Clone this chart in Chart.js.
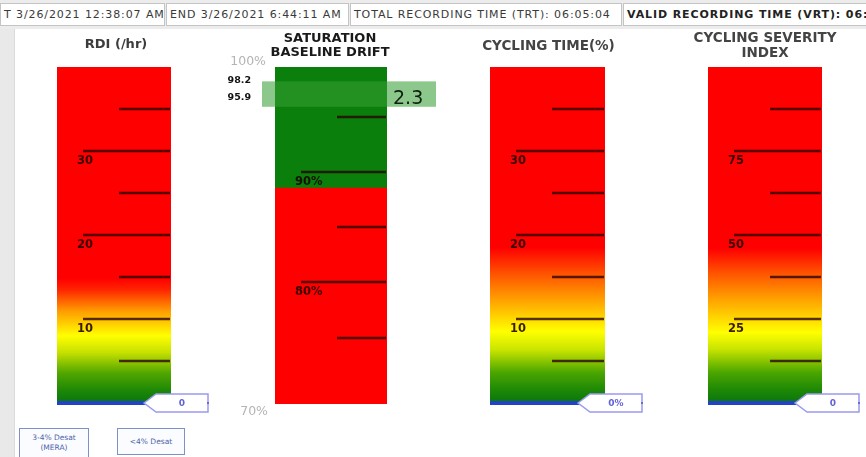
<!DOCTYPE html>
<html>
<head>
<meta charset="utf-8">
<script src="https://cdn.jsdelivr.net/npm/chart.js@4.4.1/dist/chart.umd.min.js"></script>
<style>
  html, body { margin: 0; padding: 0; background: #fff; }
  body { width: 866px; height: 457px; position: relative; overflow: hidden; font-family: "DejaVu Sans", sans-serif; }
  #hdr { position: absolute; left: 0; top: 0; width: 866px; height: 29px; background: #ececec; }
  .cell { position: absolute; top: 3px; height: 23px; background: #fff; border: 1px solid #c4c4c4; box-sizing: border-box;
          font-size: 11px; letter-spacing: 0.9px; line-height: 21px; color: #3a3a3a; white-space: nowrap; overflow: hidden; padding-left: 3px; }
  #strip { position: absolute; left: 0; top: 29px; width: 14px; bottom: 0; background: #e9e9e9; border-right: 1px solid #dadada; }
  canvas { position: absolute; }
  .btn { position: absolute; border: 1.5px solid #7d90c8; background: #fbfcff; color: #4d66a8; font-size: 7.5px;
         text-align: center; box-sizing: border-box; line-height: 10px; }
</style>
</head>
<body>
<div id="hdr">
  <div class="cell" style="left:0;width:165px;">T 3/26/2021 12:38:07 AM</div>
  <div class="cell" style="left:166px;width:183px;">END 3/26/2021 6:44:11 AM</div>
  <div class="cell" style="left:350px;width:272px;">TOTAL RECORDING TIME (TRT): 06:05:04</div>
  <div class="cell" style="left:623px;width:260px;font-weight:bold;color:#222;">VALID RECORDING TIME (VRT): 06:05:04</div>
</div>
<div id="strip"></div>

<canvas id="rdi" width="200" height="400" style="left:15px;top:30px;"></canvas>
<canvas id="sat" width="230" height="400" style="left:218px;top:30px;"></canvas>
<canvas id="ct" width="200" height="400" style="left:455px;top:30px;"></canvas>
<canvas id="csi" width="196" height="400" style="left:670px;top:30px;"></canvas>

<div class="btn" style="left:19px;top:428px;width:70px;height:32px;padding-top:4px;">3-4% Desat<br>(MERA)</div>
<div class="btn" style="left:117px;top:428px;width:68px;height:27px;padding-top:8px;">&lt;4% Desat</div>

<script>
// ---- Gauge readings and scales ----
const rdiTitle = ['RDI (/hr)'];
const rdiRange = [0, 40];
const rdiMajorTicks = [10, 20, 30];
const rdiMinorTicks = [5, 15, 25, 35];
const rdiValue = 0;
const rdiValueLabel = '0';

const satTitle = ['SATURATION', 'BASELINE DRIFT'];
const satRange = [69, 99.5];
const satMajorTicks = [90, 80];
const satMajorLabels = ['90%', '80%'];
const satMinorTicks = [95, 85, 75];
const satEndLabels = ['100%', '70%'];
const satNormalFloor = 88.6;
const satBaselineHigh = 98.2;
const satBaselineLow = 95.9;
const satDrift = 2.3;

const ctTitle = ['CYCLING TIME(%)'];
const ctRange = [0, 40];
const ctMajorTicks = [10, 20, 30];
const ctMinorTicks = [5, 15, 25, 35];
const ctValue = 0;
const ctValueLabel = '0%';

const csiTitle = ['CYCLING SEVERITY', 'INDEX'];
const csiRange = [0, 100];
const csiMajorTicks = [25, 50, 75];
const csiMinorTicks = [12.5, 37.5, 62.5, 87.5];
const csiValue = 0;
const csiValueLabel = '0';

// ---- Fill styles (value -> colour along each gauge) ----
const fills = {
  rdi: [[0, '#0a750e'], [1.5, '#1d8806'], [3.6, '#52a700'], [6, '#c6e000'], [8, '#ffff00'], [11, '#ff9a00'], [13.5, '#ff2400'], [14.8, '#ff0000'], [40, '#ff0000']],
  ct:  [[0, '#0a750e'], [1.5, '#1d8806'], [3.6, '#4aa500'], [6.3, '#c8e400'], [8.5, '#ffff00'], [12.3, '#ffa000'], [15.5, '#ff5000'], [18.5, '#ff0000'], [40, '#ff0000']],
  csi: [[0, '#0a750e'], [3.8, '#1d8806'], [9, '#4aa500'], [16, '#c8e400'], [21, '#ffff00'], [31, '#ffa000'], [39, '#ff5000'], [46, '#ff0000'], [100, '#ff0000']],
  satHigh: '#0b7f0b',
  satLow: '#fe0000'
};

const FONT = '"DejaVu Sans", "Liberation Sans", sans-serif';

function verticalFill(stops, range) {
  return function (context) {
    const chart = context.chart;
    const area = chart.chartArea;
    if (!area) return stops[0][1];
    const y = chart.scales.y;
    const g = chart.ctx.createLinearGradient(0, y.getPixelForValue(range[0]), 0, y.getPixelForValue(range[1]));
    stops.forEach(([v, c]) => g.addColorStop((v - range[0]) / (range[1] - range[0]), c));
    return g;
  };
}

function hLine(ctx, x0, x1, y) {
  ctx.beginPath();
  ctx.moveTo(x0, y);
  ctx.lineTo(x1, y);
  ctx.stroke();
}

// Gauge heading, centred over the column (drawn without width squeezing)
function drawHeading(chart, h) {
  const ctx = chart.ctx, a = chart.chartArea;
  ctx.save();
  ctx.fillStyle = h.color;
  ctx.font = h.weight + ' ' + h.size + 'px ' + FONT;
  ctx.textAlign = 'center';
  ctx.textBaseline = 'middle';
  h.lines.forEach((t, i) => ctx.fillText(t, (a.left + a.right) / 2 + h.dx, h.y + i * h.step));
  ctx.restore();
}

// Ticks and tick labels painted inside the gauge column
function drawTicks(chart, spec) {
  const ctx = chart.ctx, y = chart.scales.y, a = chart.chartArea;
  ctx.save();
  ctx.strokeStyle = 'rgba(40,0,0,0.78)';
  ctx.lineWidth = 2.5;
  spec.major.forEach(v => hLine(ctx, a.left + 26, a.right - 1, Math.round(y.getPixelForValue(v))));
  spec.minor.forEach(v => hLine(ctx, a.left + 62, a.right - 1, Math.round(y.getPixelForValue(v))));
  ctx.fillStyle = 'rgba(30,0,0,0.88)';
  ctx.font = 'bold 11.5px ' + FONT;
  ctx.textAlign = 'left';
  ctx.textBaseline = 'middle';
  spec.major.forEach((v, i) => ctx.fillText(spec.majorLabels[i], a.left + 20, y.getPixelForValue(v) + 10));
  ctx.restore();
}

// Blue value line with a callout tag at the current reading
function drawValueTag(chart, value, label) {
  const ctx = chart.ctx, y = chart.scales.y, a = chart.chartArea;
  const py = y.getPixelForValue(value);
  const tip = a.right - 27, boxL = tip + 12, boxR = a.right + 37, h = 9;
  ctx.save();
  ctx.strokeStyle = '#2243c8';
  ctx.lineWidth = 4;
  hLine(ctx, a.left, tip + 2, py);
  ctx.beginPath();
  ctx.moveTo(tip, py);
  ctx.lineTo(boxL, py - h);
  ctx.lineTo(boxR, py - h);
  ctx.lineTo(boxR, py + h);
  ctx.lineTo(boxL, py + h);
  ctx.closePath();
  ctx.fillStyle = '#ffffff';
  ctx.fill();
  ctx.strokeStyle = '#9a9af0';
  ctx.lineWidth = 1.5;
  ctx.stroke();
  ctx.strokeStyle = '#6b6be0';
  ctx.lineWidth = 2;
  hLine(ctx, boxR - 1, boxR + 1, py);
  ctx.fillStyle = '#6262d8';
  ctx.font = 'bold 9px ' + FONT;
  ctx.textAlign = 'center';
  ctx.textBaseline = 'middle';
  ctx.fillText(label, (boxL + boxR) / 2, py + 1);
  ctx.restore();
}

// Saturation baseline band, its bounds and the drift value
function drawSatBand(chart) {
  const ctx = chart.ctx, y = chart.scales.y, a = chart.chartArea;
  const yHi = y.getPixelForValue(satBaselineHigh), yLo = y.getPixelForValue(satBaselineLow);
  ctx.save();
  ctx.fillStyle = 'rgba(53,158,53,0.57)';
  ctx.fillRect(a.left - 13, yHi, (a.right + 49) - (a.left - 13), yLo - yHi);
  ctx.fillStyle = '#111';
  ctx.font = 'bold 9.5px ' + FONT;
  ctx.textAlign = 'right';
  ctx.textBaseline = 'middle';
  ctx.fillText(satBaselineHigh.toFixed(1), a.left - 24, yHi - 1);
  ctx.fillText(satBaselineLow.toFixed(1), a.left - 24, yLo - 9);
  ctx.fillStyle = '#0f1f0f';
  ctx.font = '19px ' + FONT;
  ctx.textAlign = 'left';
  ctx.fillText(satDrift.toFixed(1), a.right + 6, (yHi + yLo) / 2 + 5);
  ctx.fillStyle = '#b4b4b4';
  ctx.font = '12.5px ' + FONT;
  ctx.textAlign = 'right';
  ctx.fillText(satEndLabels[0], a.left - 9, a.top - 5);
  ctx.fillText(satEndLabels[1], a.left - 7, a.bottom + 8);
  ctx.restore();
}

function makeGauge(id, cfg) {
  const marks = {
    id: 'gaugeMarks',
    afterDatasetsDraw(chart) {
      drawHeading(chart, cfg.heading);
      drawTicks(chart, cfg.ticks);
      if (cfg.tag) drawValueTag(chart, cfg.tag.value, cfg.tag.label);
      if (cfg.band) drawSatBand(chart);
    }
  };
  return new Chart(document.getElementById(id), {
    type: 'bar',
    data: { labels: [cfg.heading.lines.join(' ')], datasets: cfg.datasets },
    options: {
      responsive: false,
      animation: false,
      events: [],
      devicePixelRatio: 1,
      layout: { padding: cfg.padding },
      plugins: {
        legend: { display: false },
        tooltip: { enabled: false },
        title: { display: false }
      },
      scales: {
        x: { display: false },
        y: { display: false, min: cfg.range[0], max: cfg.range[1] }
      }
    },
    plugins: [marks]
  });
}

function column(range, fill) {
  return { data: [range.slice()], backgroundColor: fill, borderWidth: 0, barPercentage: 1, categoryPercentage: 1, grouped: false };
}

makeGauge('rdi', {
  heading: { lines: rdiTitle, color: '#3c3c3c', size: 13, weight: 'bold', y: 15, step: 14, dx: 2 },
  padding: { left: 42, right: 44, top: 37, bottom: 27 },
  range: rdiRange,
  datasets: [column(rdiRange, verticalFill(fills.rdi, rdiRange))],
  ticks: { major: rdiMajorTicks, minor: rdiMinorTicks, majorLabels: rdiMajorTicks.map(String) },
  tag: { value: rdiValue, label: rdiValueLabel }
});

makeGauge('sat', {
  heading: { lines: satTitle, color: '#1a1a1a', size: 13, weight: 'bold', y: 9, step: 14, dx: -1 },
  padding: { left: 57, right: 61, top: 37, bottom: 26 },
  range: satRange,
  datasets: [
    column([satNormalFloor, satRange[1]], fills.satHigh),
    column([satRange[0], satNormalFloor], fills.satLow)
  ],
  ticks: { major: satMajorTicks, minor: satMinorTicks, majorLabels: satMajorLabels },
  band: true
});

makeGauge('ct', {
  heading: { lines: ctTitle, color: '#444', size: 13.5, weight: 'bold', y: 16, step: 14, dx: 1 },
  padding: { left: 35, right: 50, top: 37, bottom: 27 },
  range: ctRange,
  datasets: [column(ctRange, verticalFill(fills.ct, ctRange))],
  ticks: { major: ctMajorTicks, minor: ctMinorTicks, majorLabels: ctMajorTicks.map(String) },
  tag: { value: ctValue, label: ctValueLabel }
});

makeGauge('csi', {
  heading: { lines: csiTitle, color: '#444', size: 13.5, weight: 'bold', y: 8, step: 15, dx: 0 },
  padding: { left: 38, right: 44, top: 37, bottom: 27 },
  range: csiRange,
  datasets: [column(csiRange, verticalFill(fills.csi, csiRange))],
  ticks: { major: csiMajorTicks, minor: csiMinorTicks, majorLabels: csiMajorTicks.map(String) },
  tag: { value: csiValue, label: csiValueLabel }
});
</script>
</body>
</html>
